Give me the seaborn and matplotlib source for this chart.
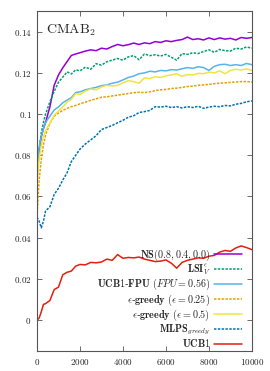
import matplotlib
matplotlib.use('Agg')
import matplotlib.pyplot as plt
import seaborn as sns
from matplotlib.ticker import FuncFormatter, MultipleLocator

steps = [0, 100, 200, 300, 400, 600, 800, 1000, 1200, 1400, 1600, 1800, 2000,
         2250, 2500, 2750, 3000, 3250, 3500, 3750, 4000, 4250, 4500, 4750, 5000,
         5250, 5500, 5750, 6000, 6250, 6500, 6750, 7000, 7250, 7500, 7750, 8000,
         8250, 8500, 8750, 9000, 9250, 9500, 9750, 10000]

ns = [0.075, 0.082, 0.089, 0.093, 0.096, 0.1035, 0.114, 0.119, 0.1225, 0.1255, 0.1285, 0.1292, 0.1298,
      0.1306, 0.1312, 0.1308, 0.1320, 0.1316, 0.1328, 0.1338, 0.1332, 0.1337, 0.1345, 0.1338, 0.1346,
      0.1342, 0.1352, 0.1348, 0.1356, 0.1352, 0.1358, 0.1362, 0.1374, 0.1362, 0.1366, 0.1360, 0.1370,
      0.1362, 0.1370, 0.1364, 0.1368, 0.1360, 0.1372, 0.1368, 0.1372]

lsi = [0.068, 0.083, 0.091, 0.096, 0.100, 0.106, 0.111, 0.1155, 0.118, 0.1205, 0.1195, 0.1215, 0.1210,
       0.1228, 0.1218, 0.1245, 0.1238, 0.1254, 0.1262, 0.1270, 0.1262, 0.1278, 0.1284, 0.1264, 0.1292,
       0.1284, 0.1288, 0.1282, 0.1290, 0.1276, 0.1262, 0.1294, 0.1290, 0.1298, 0.1294, 0.1304, 0.1312,
       0.1300, 0.1314, 0.1308, 0.1306, 0.1320, 0.1316, 0.1326, 0.1320]

ucb1_fpu = [0.072, 0.084, 0.089, 0.093, 0.096, 0.099, 0.102, 0.1035, 0.1055, 0.1068, 0.1080, 0.1105, 0.1108,
            0.1118, 0.1124, 0.1130, 0.1138, 0.1142, 0.1150, 0.1155, 0.1166, 0.1178, 0.1185, 0.1196, 0.1200,
            0.1208, 0.1205, 0.1212, 0.1210, 0.1216, 0.1214, 0.1220, 0.1226, 0.1222, 0.1230, 0.1226, 0.1212,
            0.1232, 0.1240, 0.1242, 0.1236, 0.1240, 0.1236, 0.1246, 0.1240]

eps_025 = [0.050, 0.068, 0.078, 0.085, 0.090, 0.0955, 0.099, 0.1005, 0.1018, 0.1028, 0.1036, 0.1042, 0.1050,
           0.1058, 0.1067, 0.1074, 0.1082, 0.1084, 0.1088, 0.1092, 0.1096, 0.1100, 0.1104, 0.1106, 0.1104,
           0.1108, 0.1114, 0.1118, 0.1120, 0.1124, 0.1126, 0.1130, 0.1134, 0.1136, 0.1140, 0.1142, 0.1144,
           0.1148, 0.1150, 0.1152, 0.1154, 0.1156, 0.1158, 0.1158, 0.1156]

eps_05 = [0.066, 0.078, 0.085, 0.089, 0.092, 0.0955, 0.0995, 0.1015, 0.1035, 0.1058, 0.1072, 0.1100, 0.1095,
          0.1112, 0.1122, 0.1118, 0.1132, 0.1140, 0.1136, 0.1140, 0.1152, 0.1162, 0.1158, 0.1150, 0.1176,
          0.1172, 0.1182, 0.1178, 0.1186, 0.1190, 0.1196, 0.1184, 0.1192, 0.1190, 0.1198, 0.1196, 0.1204,
          0.1200, 0.1210, 0.1196, 0.1212, 0.1218, 0.1214, 0.1220, 0.1212]

mlps = [0.050, 0.048, 0.0448, 0.048, 0.053, 0.055, 0.061, 0.064, 0.068, 0.0715, 0.077, 0.080, 0.083,
        0.0855, 0.0875, 0.0895, 0.0925, 0.0935, 0.0945, 0.0958, 0.0970, 0.0985, 0.0992, 0.1008, 0.1012,
        0.1018, 0.1036, 0.1034, 0.1038, 0.1032, 0.1036, 0.1030, 0.1036, 0.1032, 0.1038, 0.1028, 0.1034,
        0.1038, 0.1036, 0.1042, 0.1040, 0.1048, 0.1052, 0.1060, 0.1064]

ucb1 = [0.000, 0.001, 0.004, 0.0076, 0.008, 0.0095, 0.0148, 0.0160, 0.0220, 0.0232, 0.0238, 0.0262, 0.0270,
        0.0268, 0.0280, 0.0278, 0.0282, 0.0296, 0.0290, 0.0318, 0.0300, 0.0304, 0.0302, 0.0306, 0.0296,
        0.0290, 0.0284, 0.0286, 0.0292, 0.0276, 0.0252, 0.0280, 0.0290, 0.0296, 0.0302, 0.0300, 0.0310,
        0.0314, 0.0330, 0.0338, 0.0334, 0.0350, 0.0360, 0.0352, 0.0342]

labels = [r'$\mathbf{NS}(0.8, 0.4, 0.0)$',
          r'$\mathbf{LSI}^{\epsilon}_{V}$',
          r'$\mathbf{UCB1}$-$\mathbf{FPU}$ $(FPU = 0.56)$',
          r'$\epsilon$-$\mathbf{greedy}$ $(\epsilon = 0.25)$',
          r'$\epsilon$-$\mathbf{greedy}$ $(\epsilon = 0.5)$',
          r'$\mathbf{MLPS}_{greedy}$',
          r'$\mathbf{UCB1}$']
series = [ns, lsi, ucb1_fpu, eps_025, eps_05, mlps, ucb1]
colors = ['#9400d3', '#009e73', '#56b4e9', '#e69f00', '#f0e442', '#0072b2', '#e51e10']
dotted = [False, True, False, True, False, True, False]

sns.set_theme(style='ticks')
plt.rcParams['font.family'] = ['DejaVu Serif']
plt.rcParams['mathtext.fontset'] = 'cm'

fig = plt.figure(figsize=(2.7, 3.71), dpi=100)
ax = fig.add_axes([0.137, 0.054, 0.796, 0.916])

handles = []
for vals, lab, col, dot in zip(series, labels, colors, dotted):
    sns.lineplot(x=steps, y=vals, ax=ax, color=col, linewidth=1.1)
    line = ax.lines[-1]
    if dot:
        line.set_dashes((1.6, 0.9))
    handles.append(line)

ax.set_xlim(0, 10000)
ax.set_ylim(-0.015, 0.15)
ax.xaxis.set_major_locator(MultipleLocator(2000))
ax.set_yticks([0, 0.02, 0.04, 0.06, 0.08, 0.1, 0.12, 0.14])
ax.xaxis.set_major_formatter(FuncFormatter(lambda v, p: f'${v:g}$'))
ax.yaxis.set_major_formatter(FuncFormatter(lambda v, p: f'${round(v, 4):g}$'))
ax.tick_params(direction='in', length=3.5, width=0.6, top=True, right=True,
               labelsize=6.5, color='#555555', pad=4)
for s in ax.spines.values():
    s.set_color('#555555')
    s.set_linewidth(0.8)
ax.set_xlabel('')
ax.set_ylabel('')

ax.text(0.04, 0.965, r'$\mathrm{CMAB}_2$', transform=ax.transAxes,
        fontsize=10, va='top', ha='left')

ax.legend(handles, labels, loc='lower right', bbox_to_anchor=(0.952, 0.005),
          frameon=False, fontsize=7.3, markerfirst=False, handlelength=2.7,
          labelspacing=0.0, handletextpad=0.4, borderaxespad=0, borderpad=0)

fig.savefig('out.png', dpi=100)
